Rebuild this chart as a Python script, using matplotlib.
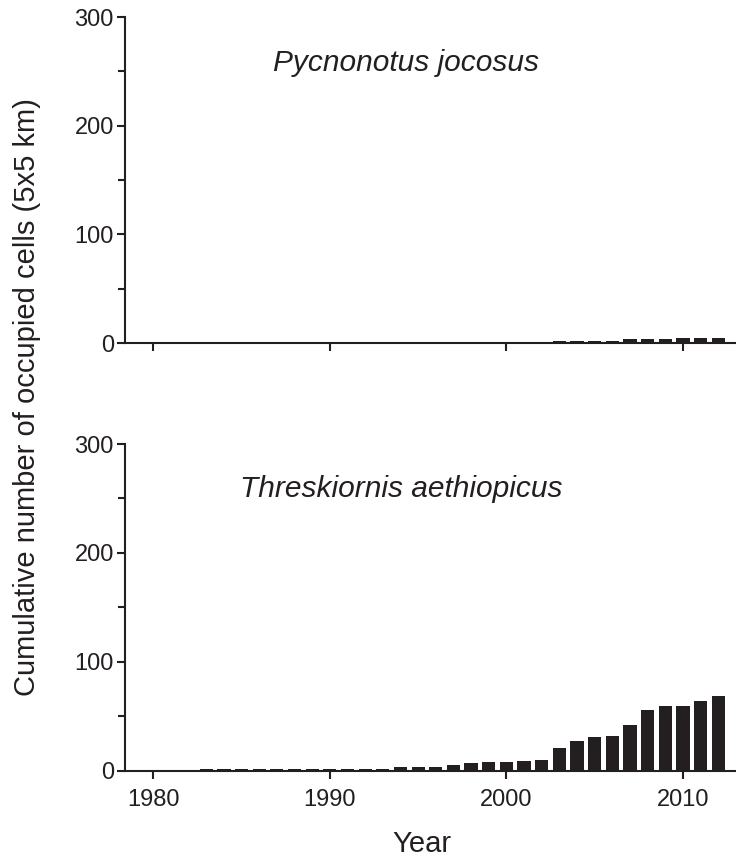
import matplotlib
matplotlib.use('Agg')
import matplotlib.pyplot as plt
from matplotlib.ticker import MultipleLocator

plt.rcParams['font.family'] = ['Liberation Sans', 'DejaVu Sans']

INK = '#231f20'

# cumulative number of occupied 5x5 km cells per year
jocosus_years = list(range(2003, 2013))
jocosus_cells = [2, 2, 2, 2, 4, 4, 4, 5, 5, 5]

aethiopicus_years = list(range(1983, 2013))
aethiopicus_cells = [2, 2, 2, 2, 2, 2, 2, 2, 2, 2, 2,
                     3, 3, 3, 5, 7, 8, 8, 9, 10,
                     21, 27, 31, 32, 42, 56, 59, 59, 64, 69]

year_ticks = [1980, 1990, 2000, 2010]
cell_ticks = [0, 100, 200, 300]

W, H = 736, 863
fig = plt.figure(figsize=(W / 100, H / 100), dpi=100)


def px_axes(left, top, right, bottom):
    return fig.add_axes([left / W, 1 - bottom / H, (right - left) / W, (bottom - top) / H])


def px_text(x, y, s, **kw):
    # place text by pixel position measured from the top-left corner
    return fig.text(x / W, 1 - y / H, s, color=INK, **kw)


def style(ax, labels=True):
    for side in ('top', 'right'):
        ax.spines[side].set_visible(False)
    for side in ('left', 'bottom'):
        ax.spines[side].set_linewidth(1.5)
        ax.spines[side].set_color(INK)
    ax.set_xlim(1978.4, 2013.0)
    ax.set_ylim(0, 300)
    ax.set_xticks(year_ticks)
    ax.set_yticks(cell_ticks)
    ax.yaxis.set_minor_locator(MultipleLocator(50))
    ax.tick_params(axis='both', which='major', length=6, width=1.5, color=INK,
                   labelsize=17, labelcolor=INK)
    ax.tick_params(axis='y', which='minor', length=5, width=1.5, color=INK)
    ax.tick_params(axis='y', pad=2)
    ax.tick_params(axis='x', pad=7)
    if not labels:
        ax.tick_params(axis='x', labelbottom=False)


ax1 = px_axes(125, 17, 736, 343)
ax1.bar(jocosus_years, jocosus_cells, width=0.75, color=INK, zorder=3)
style(ax1, labels=False)

ax2 = px_axes(125, 444, 736, 770.7)
ax2.bar(aethiopicus_years, aethiopicus_cells, width=0.75, color=INK, zorder=3)
style(ax2)

px_text(273, 70.7, 'Pycnonotus jocosus', fontsize=21.5, style='italic',
        ha='left', va='baseline')
px_text(240, 496.7, 'Threskiornis aethiopicus', fontsize=21.5, style='italic',
        ha='left', va='baseline')
px_text(27, 397, 'Cumulative number of occupied cells (5x5 km)',
        rotation=90, ha='center', va='center', fontsize=21)
px_text(421.7, 851.7, 'Year', ha='center', va='baseline', fontsize=21)

fig.savefig('out.png', dpi=100)
